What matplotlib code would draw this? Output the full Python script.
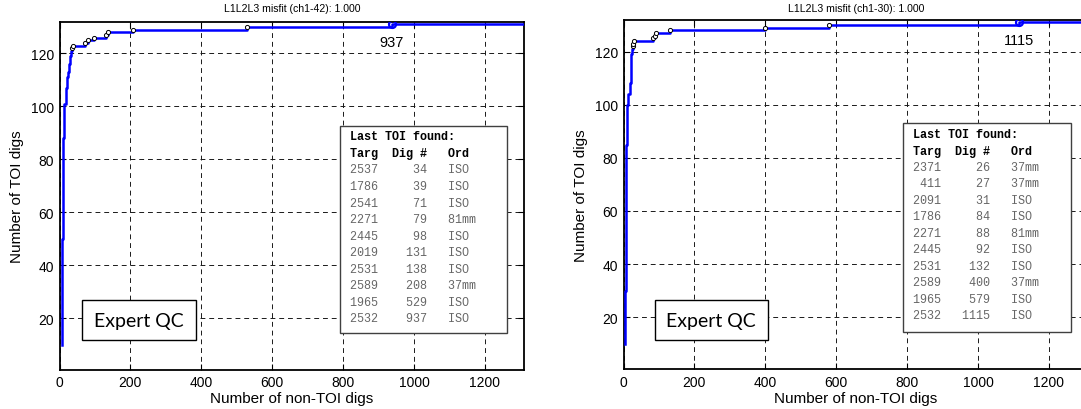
import numpy as np
import matplotlib.pyplot as plt
from matplotlib.patches import Rectangle

W, H = 1081, 410

# cumulative curve: non-TOI digs (x) where TOI count (y) steps up
left_x = [6, 7, 8, 9, 10, 11, 12, 14, 17, 21, 24, 27, 30, 32, 34, 39, 71, 79, 98, 131, 138, 208, 529, 937]
left_y = [10, 30, 50, 65, 78, 88, 96, 101, 107, 111, 113, 116, 119, 121, 122, 123, 124, 125, 126, 127, 128, 129, 130, 131]
right_x = [4, 5, 6, 7, 8, 9, 14, 19, 21, 22, 24, 26, 27, 31, 84, 88, 92, 132, 400, 579, 1115]
right_y = [10, 30, 50, 70, 85, 100, 104, 108, 117, 119, 121, 122, 123, 124, 125, 126, 127, 128, 129, 130, 131]

left_title = 'L1L2L3 misfit (ch1-42): 1.000'
right_title = 'L1L2L3 misfit (ch1-30): 1.000'

left_targ = [2537, 1786, 2541, 2271, 2445, 2019, 2531, 2589, 1965, 2532]
left_dig = [34, 39, 71, 79, 98, 131, 138, 208, 529, 937]
left_ord = ['ISO', 'ISO', 'ISO', '81mm', 'ISO', 'ISO', 'ISO', '37mm', 'ISO', 'ISO']
right_targ = [2371, 411, 2091, 1786, 2271, 2445, 2531, 2589, 1965, 2532]
right_dig = [26, 27, 31, 84, 88, 92, 132, 400, 579, 1115]
right_ord = ['37mm', '37mm', 'ISO', 'ISO', '81mm', 'ISO', 'ISO', '37mm', 'ISO', 'ISO']

xmax = 1310
yticks = [20, 40, 60, 80, 100, 120]
xticks = [0, 200, 400, 600, 800, 1000, 1200]

plt.rcParams['font.family'] = ['Liberation Sans', 'DejaVu Sans']
fig = plt.figure(figsize=(W / 100, H / 100), dpi=100)


def fx(x):
    return x / W


def fy(y):
    return 1 - y / H


def panel(l, r, t, b, xs, ys, title, targ, dig, ords, box, text_x, rows_y, qc_box, ylab_x):
    ax = fig.add_axes([fx(l), fy(b), (r - l) / W, (b - t) / H])
    ax.step(xs + [xmax], ys + [ys[-1]], where='post', color='#0000ff', lw=1.8, zorder=3)
    ax.plot(xs[-10:-1], ys[-10:-1], 'o', ms=3, mfc='white', mec='k', mew=0.7, zorder=4)
    ax.plot(xs[-1], ys[-1], 'o', ms=5, mfc='none', mec='#0000ff', mew=1.6, zorder=4)
    ax.annotate(str(dig[-1]), (xs[-1], ys[-1]), xytext=(0, -12.5), textcoords='offset points',
                ha='center', va='center', fontsize=10.5)
    ax.set_xlim(0, xmax)
    ax.set_ylim(0.5, 132)
    ax.set_xticks(xticks)
    ax.set_yticks(yticks)
    ax.grid(True, color='0.1', linestyle=(0, (5, 4)), linewidth=0.7)
    ax.tick_params(direction='in', length=4, width=0.8, top=True, right=True, labelsize=10, pad=4)
    for s in ax.spines.values():
        s.set_linewidth(1.3)
    ax.set_xlabel('Number of non-TOI digs', fontsize=11, labelpad=1.5)
    fig.text(fx(ylab_x), fy((t + b) / 2), 'Number of TOI digs', rotation=90,
             ha='center', va='center', fontsize=11)
    fig.text(fx((l + r) / 2), fy(9), title, ha='center', va='center', fontsize=7.6)

    # table of last TOI found
    bx0, by0, bx1, by1 = box
    fig.add_artist(Rectangle((fx(bx0), fy(by1)), (bx1 - bx0) / W, (by1 - by0) / H,
                             transform=fig.transFigure, facecolor='white', edgecolor='0.25', lw=1.0, zorder=5))
    mono = 'Liberation Mono'
    fig.text(fx(text_x), fy(rows_y[0]), 'Last TOI found:', family=mono, weight='bold',
             fontsize=8.5, va='center', ha='left', zorder=6)
    fig.text(fx(text_x), fy(rows_y[1]), 'Targ  Dig #   Ord', family=mono, weight='bold',
             fontsize=8.5, va='center', ha='left', zorder=6)
    for i in range(len(targ)):
        row = '%4d%7d   %s' % (targ[i], dig[i], ords[i])
        fig.text(fx(text_x), fy(rows_y[2] + i * rows_y[3]), row, family=mono,
                 fontsize=8.5, color='0.4', va='center', ha='left', zorder=6)

    qx0, qy0, qx1, qy1 = qc_box
    fig.add_artist(Rectangle((fx(qx0), fy(qy1)), (qx1 - qx0) / W, (qy1 - qy0) / H,
                             transform=fig.transFigure, facecolor='white', edgecolor='k', lw=1.0, zorder=5))
    fig.text(fx((qx0 + qx1) / 2), fy((qy0 + qy1) / 2), 'Expert QC', family=['Lato', 'DejaVu Sans'],
             fontsize=14, ha='center', va='center', zorder=6)
    return ax


panel(59.5, 524, 22.7, 370.7, left_x, left_y, left_title, left_targ, left_dig, left_ord,
      (339.6, 127, 506.7, 334), 349.6, (137, 153.5, 170.5, 16.55), (82, 300.7, 196, 341.4), 17)
panel(623.5, 1088, 20.7, 370, right_x, right_y, right_title, right_targ, right_dig, right_ord,
      (902.7, 124, 1071, 332.7), 912.7, (135, 151.7, 167.7, 16.5), (654.5, 300.7, 768, 341.4), 581)

fig.savefig('out.png', dpi=100)
